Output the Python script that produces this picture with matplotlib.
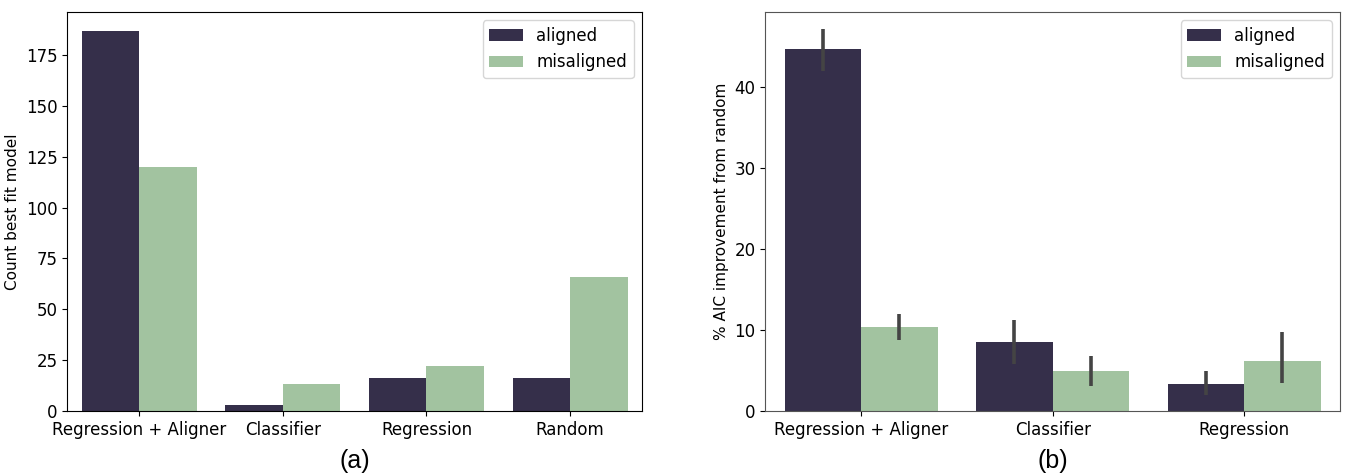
import numpy as np
import matplotlib
matplotlib.use('Agg')
import matplotlib.pyplot as plt

# ===== data =====
groups_a = ['Regression + Aligner', 'Classifier', 'Regression', 'Random']
count_aligned = [187, 3, 16, 16]
count_misaligned = [120, 13, 22, 66]

groups_b = ['Regression + Aligner', 'Classifier', 'Regression']
aic_aligned = [44.7, 8.5, 3.3]
aic_aligned_lo = [42.0, 5.8, 2.0]
aic_aligned_hi = [47.2, 11.2, 4.9]
aic_misaligned = [10.3, 4.9, 6.2]
aic_misaligned_lo = [8.7, 3.1, 3.4]
aic_misaligned_hi = [12.0, 6.8, 9.8]

series_labels = ['aligned', 'misaligned']
colors = ['#352f4a', '#a2c3a0']
err_color = '#444444'

fig, (ax1, ax2) = plt.subplots(1, 2, figsize=(13.48, 4.76), dpi=100)
plt.subplots_adjust(left=0.05, right=0.994, top=0.975, bottom=0.137, wspace=0.215)

w = 0.4

# ===== (a) counts =====
x = np.arange(len(groups_a))
ax1.bar(x - w / 2, count_aligned, w, color=colors[0], label=series_labels[0])
ax1.bar(x + w / 2, count_misaligned, w, color=colors[1], label=series_labels[1])
ax1.set_xticks(x)
ax1.set_xticklabels(groups_a)
ax1.set_xlim(-0.5, len(groups_a) - 0.5)
ax1.set_ylim(0, max(count_aligned) * 1.05)
ax1.set_yticks(np.arange(0, 176, 25))
ax1.set_ylabel('Count best fit model', fontsize=11)
ax1.tick_params(labelsize=12)
ax1.legend(loc='upper right', fontsize=12)
ax1.text(0.5, -0.125, '(a)', transform=ax1.transAxes, ha='center', va='center',
         fontsize=18, family='Liberation Sans')

# ===== (b) AIC improvement =====
x = np.arange(len(groups_b))
for k, (vals, lo, hi) in enumerate([(aic_aligned, aic_aligned_lo, aic_aligned_hi),
                                    (aic_misaligned, aic_misaligned_lo, aic_misaligned_hi)]):
    pos = x - w / 2 + k * w
    ax2.bar(pos, vals, w, color=colors[k], label=series_labels[k])
    ax2.vlines(pos, lo, hi, color=err_color, linewidth=2.6)
ax2.set_xticks(x)
ax2.set_xticklabels(groups_b)
ax2.set_xlim(-0.5, len(groups_b) - 0.5)
ax2.set_ylim(0, max(aic_aligned_hi) * 1.045)
ax2.set_yticks(np.arange(0, 41, 10))
ax2.set_ylabel('% AIC improvement from random', fontsize=11)
ax2.tick_params(labelsize=12)
for s in ax2.spines.values():
    s.set_color('#555555')
ax2.legend(loc='upper right', fontsize=12)
ax2.text(0.5, -0.125, '(b)', transform=ax2.transAxes, ha='center', va='center',
         fontsize=18, family='Liberation Sans')

plt.savefig('out.png', dpi=100)
